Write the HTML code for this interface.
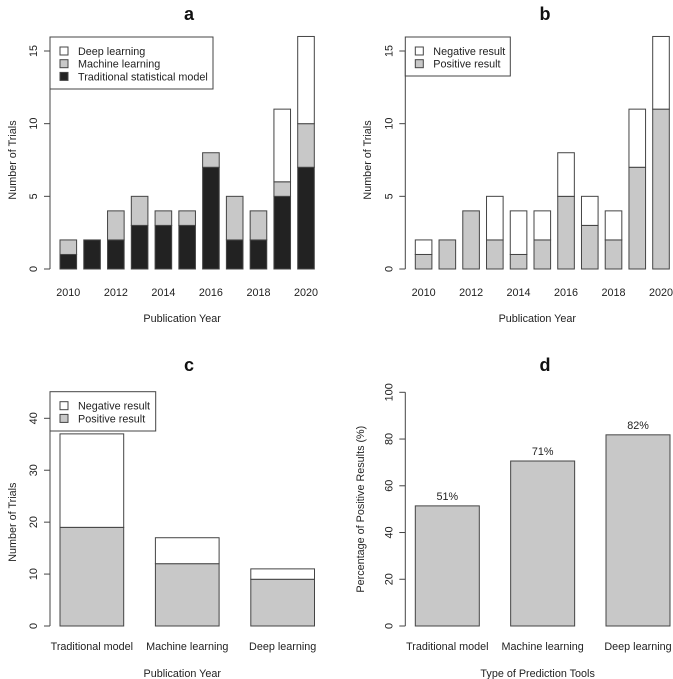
<!DOCTYPE html>
<html><head><meta charset="utf-8"><style>
html,body{margin:0;padding:0;background:#fff;}
svg{display:block;font-family:"Liberation Sans",Arial,sans-serif;}
</style></head><body>
<svg id="chart" width="673" height="679" viewBox="0 0 673 679" xmlns="http://www.w3.org/2000/svg"></svg>
<script>
const years = [2010,2011,2012,2013,2014,2015,2016,2017,2018,2019,2020];
const aTrad = [1,2,2,3,3,3,7,2,2,5,7];
const aML   = [1,0,2,2,1,1,1,3,2,1,3];
const aDL   = [0,0,0,0,0,0,0,0,0,5,6];
const bPos  = [1,2,4,2,1,2,5,3,2,7,11];
const bNeg  = [1,0,0,3,3,2,3,2,2,4,5];
const tools = ["Traditional model","Machine learning","Deep learning"];
const cPos  = [19,12,9];
const cNeg  = [18,5,2];
const dPct  = [51.4,70.6,81.8];
const dLabels = ["51%","71%","82%"];
const yTicksAB = [0,5,10,15];
const yTicksC = [0,10,20,30,40];
const yTicksD = [0,20,40,60,80,100];

const svg = document.getElementById('chart');
const NS = 'http://www.w3.org/2000/svg';
function mk(tag, attrs, parent){
  const e = document.createElementNS(NS, tag);
  for (const k in attrs) e.setAttribute(k, attrs[k]);
  (parent||svg).appendChild(e);
  return e;
}
function txt(x,y,s,size,extra){
  const t = mk('text', Object.assign({x:x,y:y,'font-size':size,'text-anchor':'middle',fill:'#222'}, extra||{}));
  t.textContent = s;
  return t;
}
const STROKE = '#444';
const COLORS = {dark:'#222', gray:'#c8c8c8', white:'#fff'};
const FS = 10.8;

function panel(cfg){
  const g = mk('g', {});
  
  
  const y = v => cfg.y0 - v * (cfg.y0 - cfg.yTopPx) / cfg.yTopVal;
  const ax = mk('g', {}, g);
  
  
  const yt = cfg.yTicks;
  mk('line', {x1:cfg.axX, x2:cfg.axX, y1:y(yt[0]), y2:y(yt[yt.length-1]), stroke:STROKE}, ax);
  yt.forEach(v=>{
    mk('line', {x1:cfg.axX-6, x2:cfg.axX, y1:y(v), y2:y(v), stroke:STROKE}, ax);
    const t = txt(cfg.axX-13, y(v), String(v), FS, {transform:`rotate(-90 ${cfg.axX-13} ${y(v)})`});
    
    
  });
  const ylab = txt(cfg.yLabX, (cfg.y0+cfg.yTopPx)/2, cfg.yLabel, FS, {transform:`rotate(-90 ${cfg.yLabX} ${(cfg.y0+cfg.yTopPx)/2})`});
  
  
  const n = cfg.series[0].vals.length;
  for (let i=0;i<n;i++){
    const x = cfg.firstX + i*cfg.pitch;
    let acc = 0;
    cfg.series.forEach(s=>{
      const v = s.vals[i];
      if (v>0){
        const r = mk('rect', {x:x, y:y(acc+v), width:cfg.bw, height:y(acc)-y(acc+v), fill:s.color, stroke:STROKE, 'stroke-width':1}, g);
        
        
      }
      acc += v;
    });
    if (cfg.valLabels){
      const t = txt(x+cfg.bw/2, y(acc)-6, cfg.valLabels[i], FS);
      
      
    }
    if (cfg.xLabels[i] !== ''){
      const t = txt(x+cfg.bw/2, cfg.xLabY, cfg.xLabels[i], FS);
      
      
    }
  }
  const xt = txt((cfg.axX+cfg.firstX+(n-1)*cfg.pitch+cfg.bw)/2, cfg.xTitleY, cfg.xTitle, FS);
  
  
  const tt = txt(cfg.titleX, cfg.titleY, cfg.title, 18, {'font-weight':'bold', fill:'#111'});
  
  
  if (cfg.legend){
    const L = cfg.legend;
    const lg = mk('g', {}, g);
    
    
    mk('rect', {x:L.x, y:L.y, width:L.w, height:L.h, fill:'#fff', stroke:STROKE}, lg);
    L.items.forEach((it,k)=>{
      const cy = L.y + 14 + k*12.7;
      const e = mk('g', {}, lg);
      
      
      mk('rect', {x:L.x+10, y:cy-4, width:8, height:8, fill:it.color, stroke:STROKE}, e);
      txt(L.x+28, cy+4, it.label, FS, {'text-anchor':'start'}).parentNode === e;
      e.appendChild(e.ownerSVGElement.lastChild);
    });
  }
}

const yearLabels = years.map(v => v%2===0 ? String(v) : '');
panel({name:'panel-a', axX:50, y0:269, yTopPx:51, yTopVal:15, yTicks:yTicksAB,
  firstX:60, pitch:23.77, bw:16.6, yLabX:16, yLabel:'Number of Trials',
  series:[{key:'traditional',vals:aTrad,color:COLORS.dark},{key:'ml',vals:aML,color:COLORS.gray},{key:'dl',vals:aDL,color:COLORS.white}],
  xLabels:yearLabels, xLabY:296, xTitle:'Publication Year', xTitleY:322, title:'a', titleX:189, titleY:20,
  legend:{x:50,y:37,w:163,h:52,items:[{label:'Deep learning',color:COLORS.white},{label:'Machine learning',color:COLORS.gray},{label:'Traditional statistical model',color:COLORS.dark}]}});
panel({name:'panel-b', axX:405.3, y0:269, yTopPx:51, yTopVal:15, yTicks:yTicksAB,
  firstX:415.3, pitch:23.74, bw:16.6, yLabX:371, yLabel:'Number of Trials',
  series:[{key:'positive',vals:bPos,color:COLORS.gray},{key:'negative',vals:bNeg,color:COLORS.white}],
  xLabels:yearLabels, xLabY:296, xTitle:'Publication Year', xTitleY:322, title:'b', titleX:545, titleY:20,
  legend:{x:405.3,y:37,w:105,h:39,items:[{label:'Negative result',color:COLORS.white},{label:'Positive result',color:COLORS.gray}]}});
panel({name:'panel-c', axX:50, y0:626, yTopPx:418.3, yTopVal:40, yTicks:yTicksC,
  firstX:60, pitch:95.4, bw:63.7, yLabX:16, yLabel:'Number of Trials',
  series:[{key:'positive',vals:cPos,color:COLORS.gray},{key:'negative',vals:cNeg,color:COLORS.white}],
  xLabels:tools, xLabY:650, xTitle:'Publication Year', xTitleY:677, title:'c', titleX:189, titleY:371,
  legend:{x:50,y:391.7,w:105.7,h:39.3,items:[{label:'Negative result',color:COLORS.white},{label:'Positive result',color:COLORS.gray}]}});
panel({name:'panel-d', axX:405.3, y0:626, yTopPx:392.3, yTopVal:100, yTicks:yTicksD,
  firstX:415.3, pitch:95.35, bw:64, yLabX:364, yLabel:'Percentage of Positive Results (%)',
  series:[{key:'percent',vals:dPct,color:COLORS.gray}], valLabels:dLabels,
  xLabels:tools, xLabY:650, xTitle:'Type of Prediction Tools', xTitleY:677, title:'d', titleX:545, titleY:371});
</script>
</body></html>
